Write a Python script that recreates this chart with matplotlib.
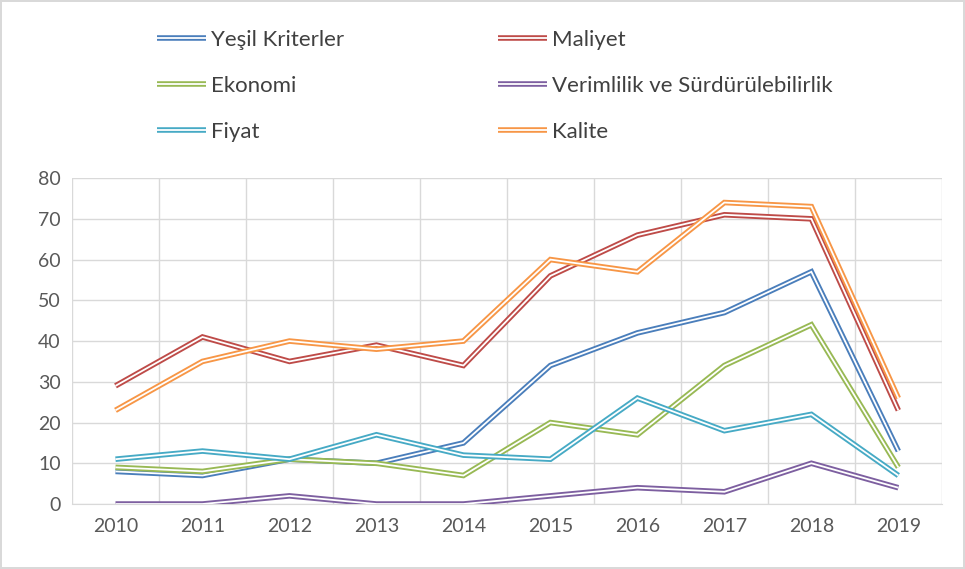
import matplotlib.pyplot as plt
from matplotlib.lines import Line2D
from matplotlib.legend_handler import HandlerTuple

plt.rcParams['font.family'] = ['Lato', 'DejaVu Sans']

years = ['2010', '2011', '2012', '2013', '2014', '2015', '2016', '2017', '2018', '2019']
yesil = [8, 7, 11, 10, 15, 34, 42, 47, 57, 13]
maliyet = [29, 41, 35, 39, 34, 56, 66, 71, 70, 23]
ekonomi = [9, 8, 11, 10, 7, 20, 17, 34, 44, 9]
verimlilik = [0, 0, 2, 0, 0, 2, 4, 3, 10, 4]
fiyat = [11, 13, 11, 17, 12, 11, 26, 18, 22, 7]
kalite = [23, 35, 40, 38, 40, 60, 57, 74, 73, 26]

series = [
    ('Yeşil Kriterler', yesil, '#4a7ebb'),
    ('Maliyet', maliyet, '#be4b48'),
    ('Ekonomi', ekonomi, '#98b954'),
    ('Verimlilik ve Sürdürülebilirlik', verimlilik, '#7d5fa0'),
    ('Fiyat', fiyat, '#46aac5'),
    ('Kalite', kalite, '#f79646'),
]

fig = plt.figure(figsize=(9.65, 5.69), dpi=100)
fig.patch.set_edgecolor('#d9d9d9')
fig.patch.set_linewidth(1.5)
ax = fig.add_axes([0.0746, 0.1142, 0.9014, 0.5728])

x = list(range(len(years)))
handles = {}
for name, vals, col in series:
    ax.plot(x, vals, color=col, lw=4.0, solid_joinstyle='miter', solid_capstyle='butt', zorder=3)
    ax.plot(x, vals, color='white', lw=1.3, solid_joinstyle='miter', solid_capstyle='butt', zorder=3)
    handles[name] = (Line2D([], [], color=col, lw=4.0, solid_capstyle='butt'),
                     Line2D([], [], color='white', lw=1.3, solid_capstyle='butt'))

ax.set_xlim(-0.5, len(years) - 0.5)
ax.set_ylim(0, 80)
ax.set_yticks(range(0, 81, 10))
ax.set_xticks(x)
ax.set_xticklabels(years)
ax.set_xticks([i - 0.5 for i in range(len(years) + 1)], minor=True)
ax.grid(axis='y', color='#d9d9d9', lw=1)
ax.grid(axis='x', which='minor', color='#d9d9d9', lw=1)
ax.tick_params(axis='both', which='both', length=0, colors='#595959', labelsize=14)
ax.tick_params(axis='x', pad=10)
ax.tick_params(axis='y', pad=8)
for s in ['top', 'right', 'left']:
    ax.spines[s].set_visible(False)
ax.spines['bottom'].set_color('#d9d9d9')

order = ['Yeşil Kriterler', 'Ekonomi', 'Fiyat', 'Maliyet', 'Verimlilik ve Sürdürülebilirlik', 'Kalite']
fig.legend([handles[n] for n in order], order, ncol=2, frameon=False,
           handler_map={tuple: HandlerTuple(ndivide=1, pad=0)},
           loc='upper left', bbox_to_anchor=(0.142, 0.982), fontsize=16,
           labelcolor='#404040', handlelength=2.2, handletextpad=0.25,
           labelspacing=1.16, columnspacing=6.9)

fig.savefig('out.png', dpi=100)
